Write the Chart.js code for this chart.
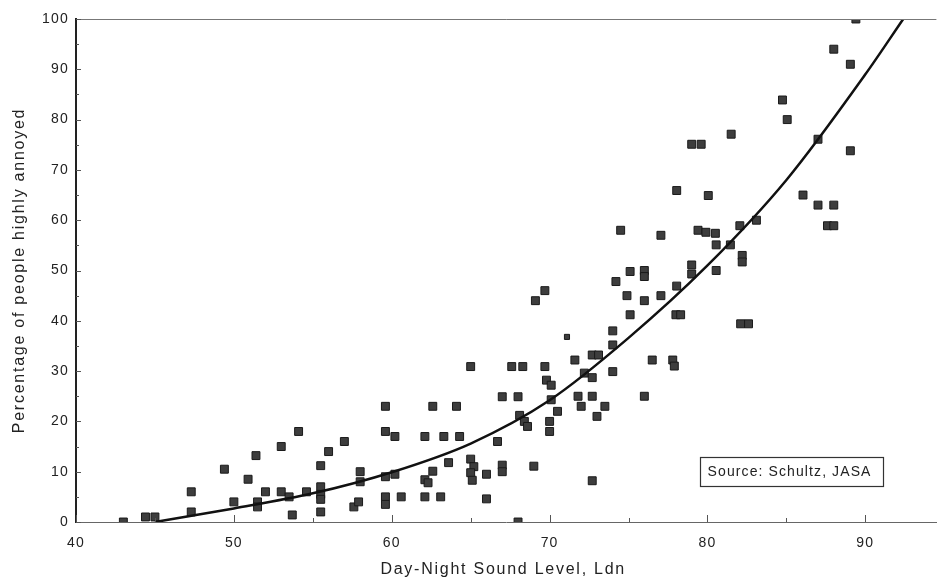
<!DOCTYPE html>
<html>
<head>
<meta charset="utf-8">
<title>Percentage highly annoyed vs Ldn</title>
<script src="https://cdn.jsdelivr.net/npm/chart.js@4.4.0/dist/chart.umd.min.js"></script>
<style>
    html, body { margin: 0; padding: 0; background: #fff; }
    #wrap { position: relative; width: 943px; height: 582px; }
</style>
</head>
<body>
<div id="wrap"><canvas id="annoyChart"></canvas></div>
<script>
// survey points (Ldn, % highly annoyed)
const surveyLdn = [
    43.0, 44.4, 45.0, 47.3, 47.3, 49.4, 50.0, 50.9, 51.4, 51.5,
    51.5, 52.0, 53.0, 53.0, 53.5, 53.7, 54.1, 54.6, 55.5, 55.5,
    55.5, 55.5, 55.5, 56.0, 57.0, 58.0, 58.0, 57.6, 57.9, 59.6,
    59.6, 60.2, 59.6, 60.2, 59.6, 59.6, 60.6, 62.1, 62.6, 63.3,
    64.1, 64.3, 62.6, 62.1, 62.3, 62.1, 63.1, 63.6, 65.0, 65.0,
    65.2, 65.0, 65.1, 66.0, 66.0, 66.7, 67.0, 67.0, 67.0, 67.6,
    68.3, 68.0, 68.0, 68.1, 68.4, 68.6, 69.0, 69.7, 69.8, 70.1,
    70.0, 70.0, 70.5, 70.1, 69.7, 69.1, 71.6, 71.8, 72.0, 72.7,
    73.1, 72.2, 72.7, 72.7, 73.0, 73.5, 72.7, 74.0, 74.0, 74.0,
    74.2, 75.1, 74.9, 75.1, 76.0, 76.0, 76.0, 76.0, 76.5, 77.05,
    77.8, 77.9, 78.05, 78.0, 78.3, 79.0, 79.0, 80.55, 81.5, 79.0,
    79.6, 78.05, 80.05, 74.5, 77.05, 79.4, 79.9, 80.5, 80.55, 81.45,
    82.2, 82.2, 82.1, 82.6, 82.05, 83.1, 84.75, 85.05, 86.05, 87.0,
    87.0, 88.0, 87.6, 88.0, 88.0, 89.05, 89.05, 89.4
];
const surveyAnnoyed = [
    0, 1, 1, 6, 2, 10.5, 4, 8.5, 13.2, 4,
    3, 6, 15, 6, 5, 1.4, 18, 6, 11.2, 7,
    5.5, 4.5, 2, 14, 16, 10, 8, 3, 4, 23,
    18, 17, 9, 9.5, 5, 3.5, 5, 17, 23, 17,
    23, 17, 10.1, 8.4, 7.8, 5, 5, 11.8, 30.9, 12.5,
    11, 9.8, 8.3, 9.5, 4.6, 16, 24.9, 11.3, 10, 30.9,
    30.9, 24.9, 0, 21.2, 20, 19, 11.1, 30.9, 28.2, 27.2,
    20, 18, 22, 24.3, 46, 44, 32.2, 25, 23, 33.2,
    33.2, 29.6, 28.7, 25, 21, 23, 8.2, 38, 35.2, 29.9,
    47.8, 49.8, 45, 41.2, 50, 48.8, 44, 25, 32.2, 45,
    32.2, 31, 46.9, 41.2, 41.2, 51.1, 49.3, 50, 77.1, 75.1,
    75.1, 65.9, 64.9, 58, 57, 58, 57.6, 57.4, 55.1, 55.1,
    53, 51.7, 39.4, 39.4, 58.9, 60, 83.9, 80, 65, 76.1,
    63, 63, 58.9, 58.9, 94, 91, 73.8, 100
];
// one tiny marker
const smallLdn = [71.1];
const smallAnnoyed = [36.8];

// fitted curve
const curveLdn = [45, 50, 55, 60, 65, 70, 75, 80, 85, 90, 92.4];
const curveAnnoyed = [0, 2.7, 5.7, 9.9, 15.6, 24.2, 36.6, 51, 68, 89, 100];

const xTicks = [40, 50, 60, 70, 80, 90];
const xMinorTicks = [45, 55, 65, 75, 85];
const yTicks = [0, 10, 20, 30, 40, 50, 60, 70, 80, 90, 100];
const yMinorTicks = [5, 15, 25, 35, 45, 55, 65, 75, 85, 95];

const FONT = "'Liberation Sans', Arial, Helvetica, sans-serif";

function toPoints(xs, ys) {
    return xs.map((x, i) => ({ x: x, y: ys[i] }));
}

// frame top line, inward tick marks, axis titles, source box
const decorPlugin = {
    id: 'decor',
    beforeDraw(chart) {
        chart.ctx.letterSpacing = '1.2px';
    },
    afterDraw(chart) {
        const ctx = chart.ctx;
        const area = chart.chartArea;
        const xs = chart.scales.x;
        const ys = chart.scales.y;
        ctx.save();

        ctx.strokeStyle = '#777';
        ctx.lineWidth = 1;
        ctx.beginPath();
        ctx.moveTo(area.left, area.top + 0.5);
        ctx.lineTo(area.right, area.top + 0.5);
        ctx.stroke();

        ctx.strokeStyle = '#555';
        ctx.beginPath();
        xTicks.forEach(v => {
            const px = Math.round(xs.getPixelForValue(v)) + 0.5;
            ctx.moveTo(px, area.bottom);
            ctx.lineTo(px, area.bottom - 7);
        });
        xMinorTicks.forEach(v => {
            const px = Math.round(xs.getPixelForValue(v)) + 0.5;
            ctx.moveTo(px, area.bottom);
            ctx.lineTo(px, area.bottom - 4);
        });
        yTicks.forEach(v => {
            const py = Math.round(ys.getPixelForValue(v)) + 0.5;
            ctx.moveTo(area.left, py);
            ctx.lineTo(area.left + 5, py);
        });
        yMinorTicks.forEach(v => {
            const py = Math.round(ys.getPixelForValue(v)) + 0.5;
            ctx.moveTo(area.left, py);
            ctx.lineTo(area.left + 3, py);
        });
        ctx.stroke();

        // axis titles
        ctx.fillStyle = '#222';
        ctx.font = '16px ' + FONT;
        ctx.letterSpacing = '1.75px';
        ctx.textAlign = 'center';
        ctx.textBaseline = 'middle';
        ctx.fillText('Day-Night Sound Level, Ldn', (area.left + area.right) / 2 - 3, 570);

        ctx.save();
        ctx.translate(20, (area.top + area.bottom) / 2);
        ctx.rotate(-Math.PI / 2);
        ctx.fillText('Percentage of people highly annoyed', 0, 0);
        ctx.restore();

        // source note
        const bx0 = xs.getPixelForValue(79.5);
        const bx1 = xs.getPixelForValue(91.1);
        const by0 = ys.getPixelForValue(13);
        const by1 = ys.getPixelForValue(7.2);
        ctx.strokeStyle = '#333';
        ctx.lineWidth = 1.2;
        ctx.strokeRect(Math.round(bx0) + 0.5, Math.round(by0) + 0.5, Math.round(bx1 - bx0), Math.round(by1 - by0));
        ctx.font = '14px ' + FONT;
        ctx.letterSpacing = '1.1px';
        ctx.textAlign = 'left';
        ctx.fillText('Source: Schultz, JASA', bx0 + 8, (by0 + by1) / 2 + 1);

        ctx.restore();
    }
};

new Chart(document.getElementById('annoyChart'), {
    type: 'scatter',
    data: {
        datasets: [
            {
                type: 'line',
                label: 'Schultz curve',
                data: toPoints(curveLdn, curveAnnoyed),
                borderColor: '#111',
                borderWidth: 2.5,
                pointRadius: 0,
                fill: false,
                cubicInterpolationMode: 'monotone',
                order: 1
            },
            {
                label: 'Surveys',
                data: toPoints(surveyLdn, surveyAnnoyed),
                pointStyle: 'rect',
                pointRadius: 5.6,
                backgroundColor: '#3d3d3d',
                borderColor: '#1a1a1a',
                borderWidth: 1,
                order: 2
            },
            {
                label: 'Survey (small)',
                data: toPoints(smallLdn, smallAnnoyed),
                pointStyle: 'rect',
                pointRadius: 3.6,
                backgroundColor: '#3d3d3d',
                borderColor: '#1a1a1a',
                borderWidth: 1,
                order: 2
            }
        ]
    },
    options: {
        responsive: true,
        maintainAspectRatio: false,
        animation: false,
        devicePixelRatio: 1,
        layout: { padding: { top: 19, left: 0, right: 0, bottom: 0 } },
        plugins: {
            legend: { display: false },
            tooltip: { enabled: false }
        },
        scales: {
            x: {
                type: 'linear',
                min: 40,
                max: 94.5,
                grid: { display: false, drawTicks: false },
                border: { display: true, color: '#666', width: 1 },
                ticks: {
                    padding: 13,
                    color: '#222',
                    font: { family: FONT, size: 14 }
                },
                afterBuildTicks: s => { s.ticks = xTicks.map(v => ({ value: v })); },
                afterFit: s => { s.height = 60; }
            },
            y: {
                min: 0,
                max: 100,
                grid: { display: false, drawTicks: false },
                border: { display: true, color: '#222', width: 2 },
                ticks: {
                    padding: 7,
                    color: '#222',
                    font: { family: FONT, size: 14 }
                },
                afterBuildTicks: s => { s.ticks = yTicks.map(v => ({ value: v })); },
                afterFit: s => { s.width = 76; }
            }
        }
    },
    plugins: [decorPlugin]
});
</script>
</body>
</html>
